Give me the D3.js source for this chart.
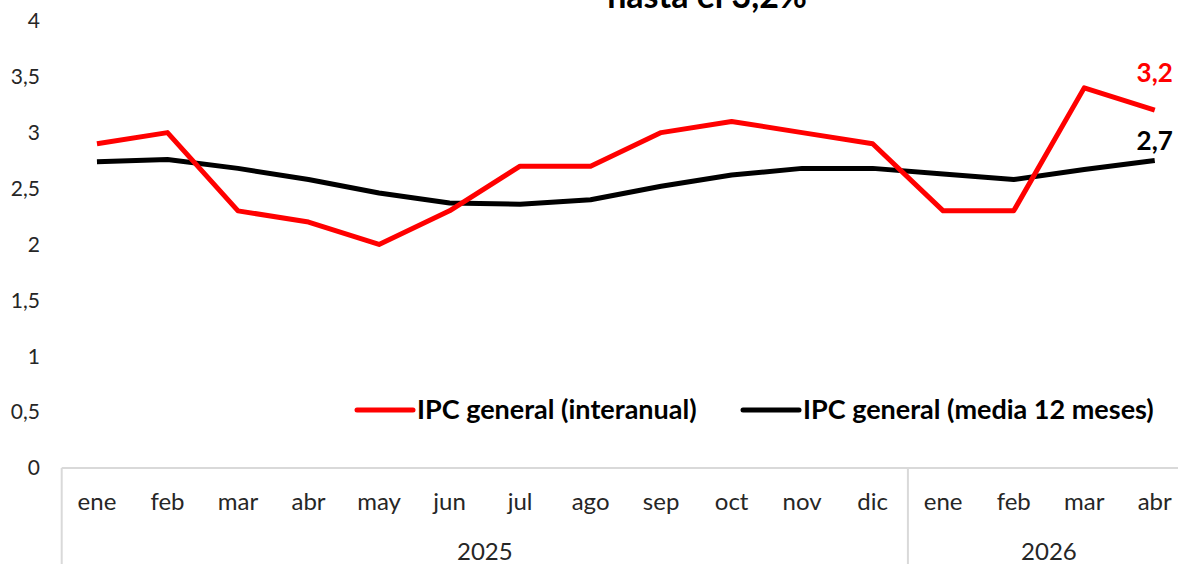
<!DOCTYPE html>
<html>
<head>
<meta charset="utf-8">
<script src="https://cdn.jsdelivr.net/npm/d3@7"></script>
<style>
  body { margin: 0; background: #fff; }
  text { font-family: Lato, "Open Sans", sans-serif; }
</style>
</head>
<body>
<script>
// data
const months = ["ene", "feb", "mar", "abr", "may", "jun", "jul", "ago", "sep", "oct", "nov", "dic", "ene", "feb", "mar", "abr"]
const years = [{ label: "2025", from: 0, to: 12 }, { label: "2026", from: 12, to: 16 }]
const interanual = [2.9, 3.0, 2.3, 2.2, 2.0, 2.3, 2.7, 2.7, 3.0, 3.1, 3.0, 2.9, 2.3, 2.3, 3.4, 3.2]
const media12 = [2.74, 2.76, 2.68, 2.58, 2.46, 2.37, 2.36, 2.40, 2.52, 2.62, 2.68, 2.68, 2.63, 2.58, 2.67, 2.75]
const yTicks = [0, 0.5, 1, 1.5, 2, 2.5, 3, 3.5, 4]
const seriesNames = ["IPC general (interanual)", "IPC general (media 12 meses)"]

const width = 1178, height = 564
const svg = d3.select("body").append("svg")
  .attr("width", width)
  .attr("height", height)

const x = d3.scaleBand()
  .domain(d3.range(months.length))
  .range([61.7, 1190])
  .paddingInner(0)
const y = d3.scaleLinear().domain([0, 4]).range([468, 20.8])

const fmt = v => String(v).replace(".", ",")

// y tick labels (no axis line in the original)
svg.append("g")
  .selectAll("text")
  .data(yTicks)
  .enter()
  .append("text")
  .attr("x", 40)
  .attr("y", d => y(d))
  .attr("dy", "0.35em")
  .attr("text-anchor", "end")
  .attr("font-size", 21)
  .attr("fill", "#262626")
  .text(d => fmt(d))

// category axis with grouping
const axisColor = "#d9d9d9"
svg.append("line")
  .attr("x1", x.range()[0]).attr("x2", x.range()[1])
  .attr("y1", y(0)).attr("y2", y(0))
  .attr("stroke", axisColor).attr("stroke-width", 2)

const bounds = [0, 12, 16]
svg.selectAll("line.sep")
  .data(bounds)
  .enter()
  .append("line")
  .attr("class", "sep")
  .attr("x1", d => d < months.length ? x(d) : x.range()[1])
  .attr("x2", d => d < months.length ? x(d) : x.range()[1])
  .attr("y1", y(0)).attr("y2", height)
  .attr("stroke", axisColor).attr("stroke-width", 2)

svg.append("g")
  .selectAll("text")
  .data(months)
  .enter()
  .append("text")
  .attr("x", (d, i) => x(i) + x.bandwidth() / 2)
  .attr("y", 502)
  .attr("dy", "0.35em")
  .attr("text-anchor", "middle")
  .attr("font-size", 24)
  .attr("fill", "#262626")
  .text(d => d)

svg.append("g")
  .selectAll("text")
  .data(years)
  .enter()
  .append("text")
  .attr("x", d => (x(d.from) + (d.to < months.length ? x(d.to) : x.range()[1])) / 2)
  .attr("y", 552)
  .attr("dy", "0.35em")
  .attr("text-anchor", "middle")
  .attr("font-size", 24)
  .attr("fill", "#262626")
  .text(d => d.label)

// lines
const line = d3.line()
  .x((d, i) => x(i) + x.bandwidth() / 2)
  .y(d => y(d))

svg.append("path")
  .datum(media12)
  .attr("d", line)
  .attr("fill", "none")
  .attr("stroke", "#000")
  .attr("stroke-width", 5)
  .attr("stroke-linejoin", "round")

svg.append("path")
  .datum(interanual)
  .attr("d", line)
  .attr("fill", "none")
  .attr("stroke", "#ff0000")
  .attr("stroke-width", 5)
  .attr("stroke-linejoin", "round")

// end value labels
const last = months.length - 1
svg.append("text")
  .attr("x", x(last) + x.bandwidth() / 2)
  .attr("y", y(interanual[last]) - 28)
  .attr("text-anchor", "middle")
  .attr("font-size", 26)
  .attr("font-weight", "bold")
  .attr("fill", "#ff0000")
  .text(fmt(interanual[last]))

svg.append("text")
  .attr("x", x(last) + x.bandwidth() / 2)
  .attr("y", y(media12[last]) - 11)
  .attr("text-anchor", "middle")
  .attr("font-size", 26)
  .attr("font-weight", "bold")
  .attr("fill", "#000")
  .text(fmt(Math.floor(media12[last] * 10) / 10))

// legend
const legend = [
  { name: seriesNames[0], color: "#ff0000", x1: 357 },
  { name: seriesNames[1], color: "#000", x1: 743 }
]
const lg = svg.append("g")
lg.selectAll("line")
  .data(legend)
  .enter()
  .append("line")
  .attr("x1", d => d.x1).attr("x2", d => d.x1 + 56)
  .attr("y1", 410).attr("y2", 410)
  .attr("stroke", d => d.color)
  .attr("stroke-width", 5)
  .attr("stroke-linecap", "round")
lg.selectAll("text")
  .data(legend)
  .enter()
  .append("text")
  .attr("x", d => d.x1 + 60)
  .attr("y", 410)
  .attr("dy", "0.35em")
  .attr("font-size", 27)
  .attr("font-weight", "bold")
  .attr("fill", "#000")
  .text(d => d.name)

// title, cut off at the top in the reference
svg.append("text")
  .attr("x", 707)
  .attr("y", 8)
  .attr("text-anchor", "middle")
  .attr("font-size", 34)
  .attr("font-weight", "bold")
  .attr("fill", "#000")
  .text("hasta el 3,2%")
</script>
</body>
</html>
